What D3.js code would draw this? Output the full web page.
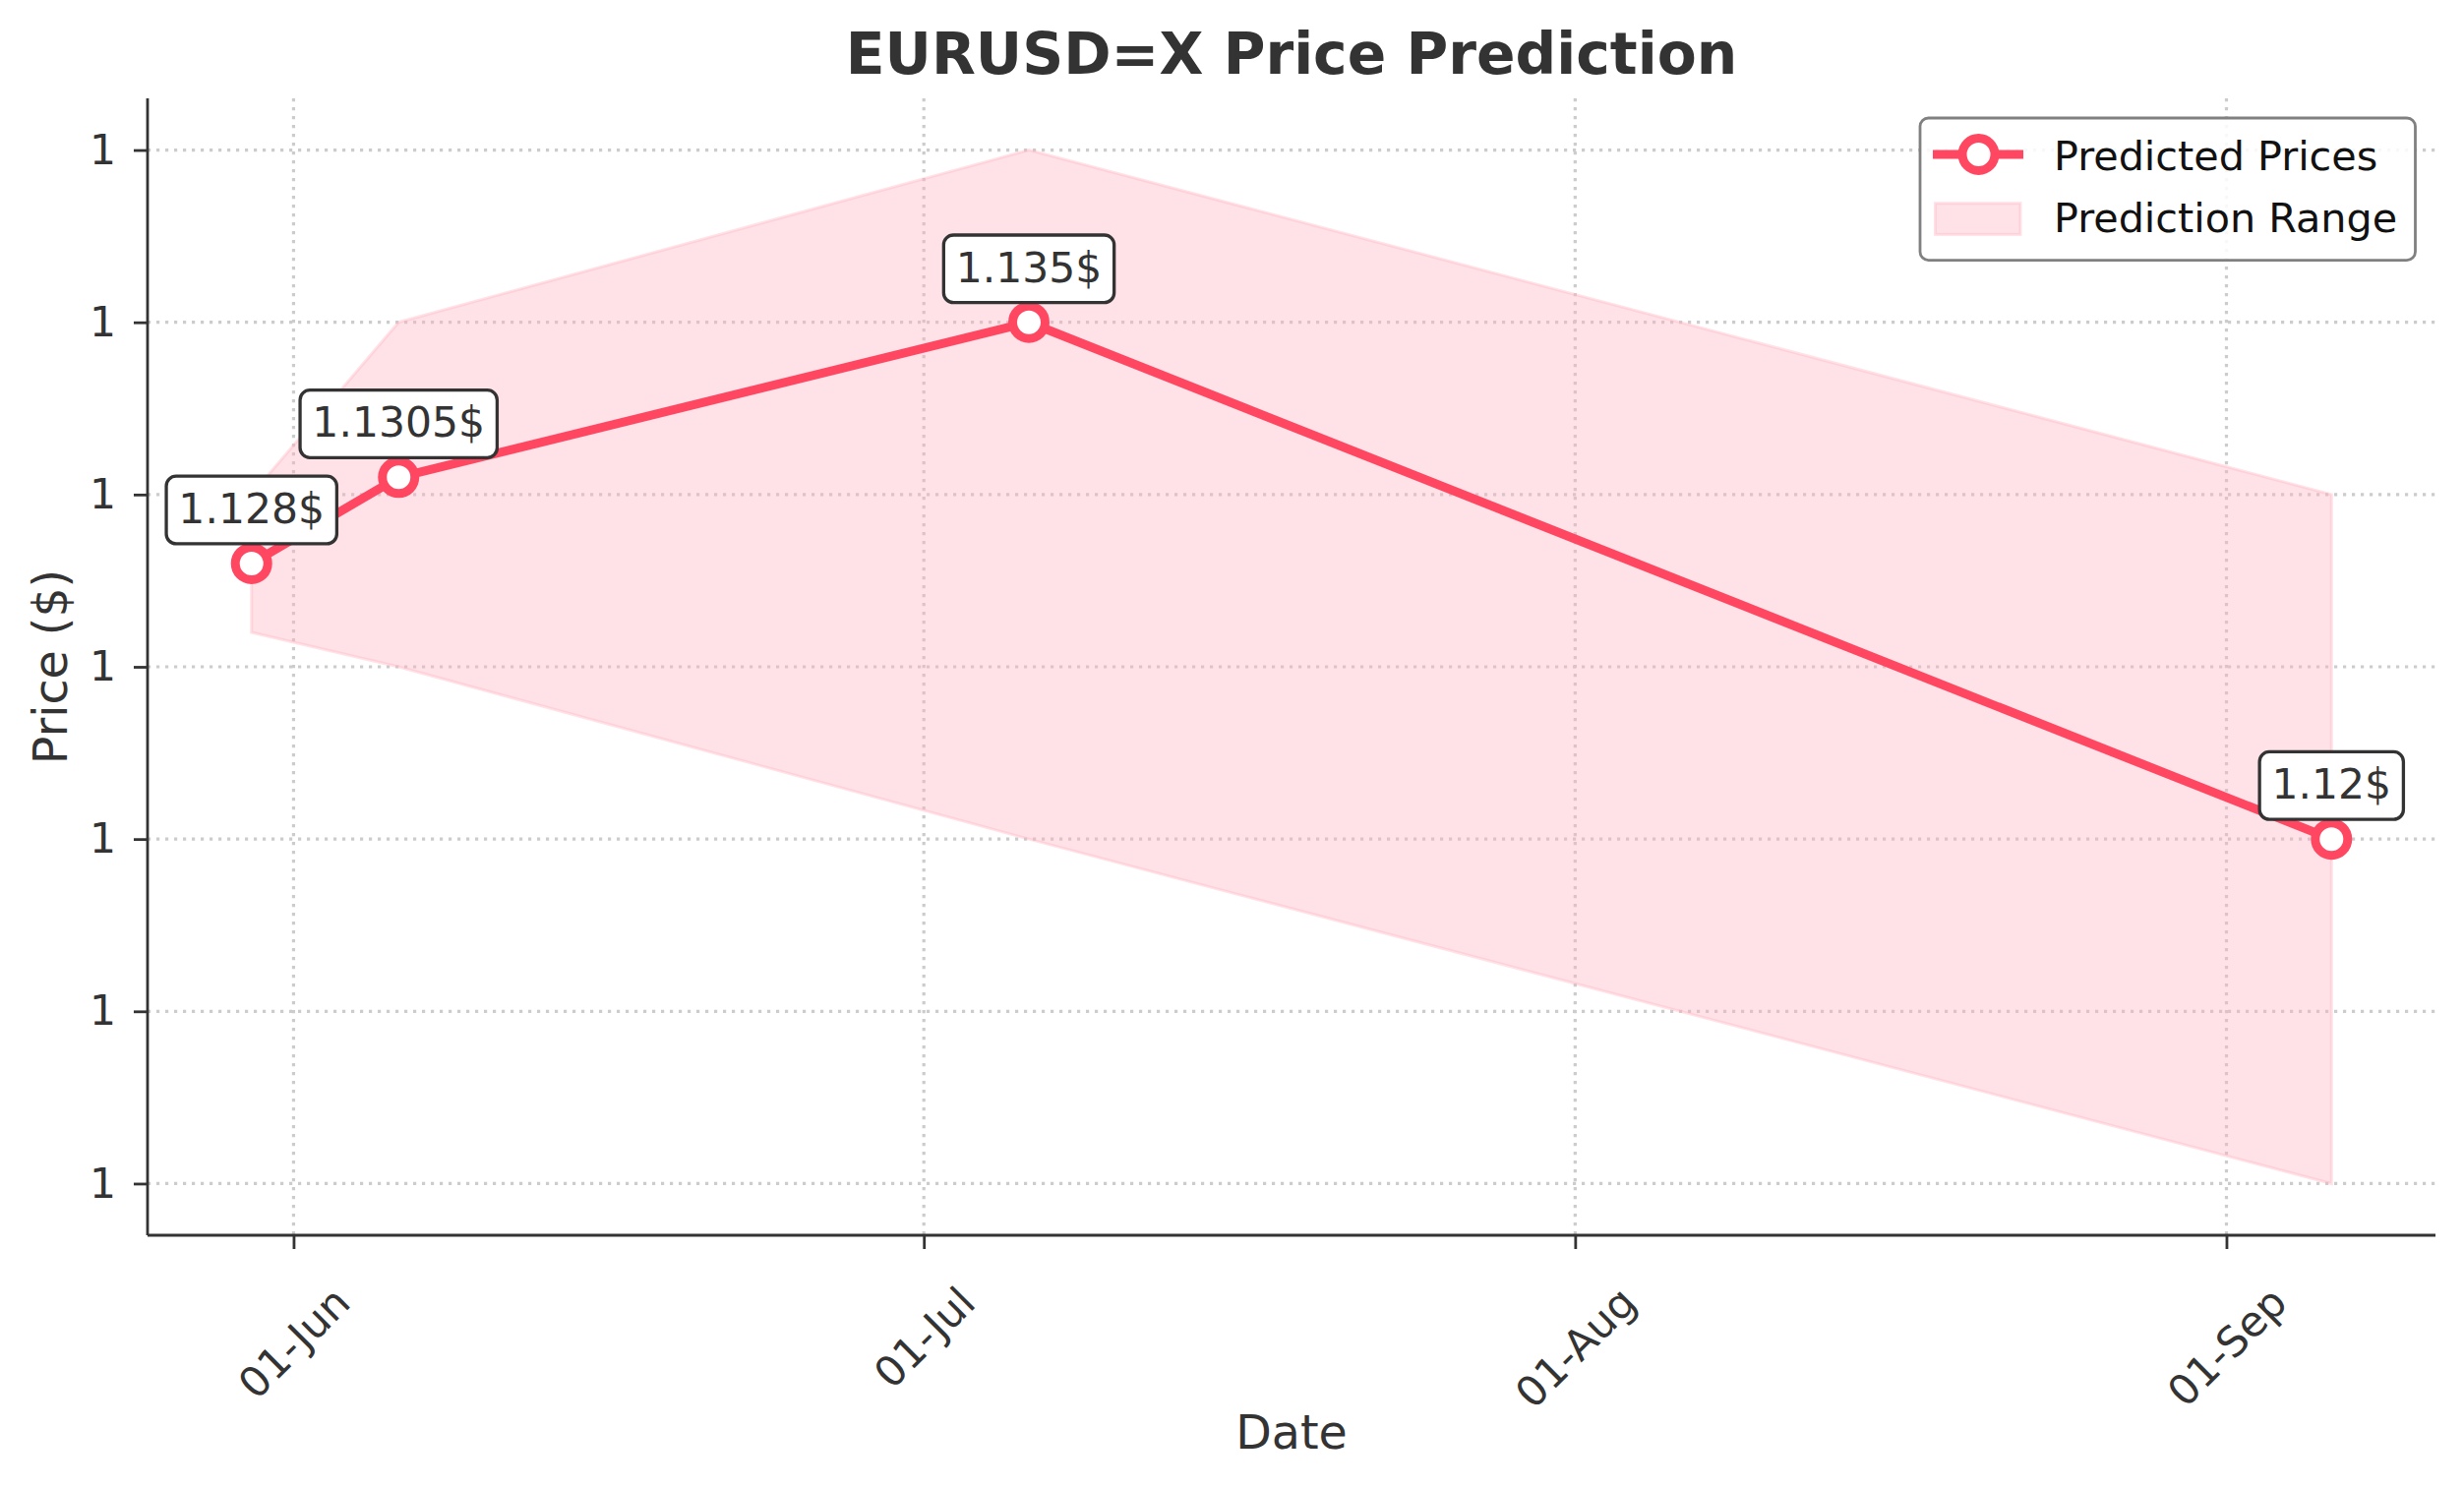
<!DOCTYPE html>
<html>
<head>
<meta charset="utf-8">
<script src="https://cdn.jsdelivr.net/npm/d3@7"></script>
<style>
  body { margin: 0; background: #fff; }
  svg { display: block; font-family: "DejaVu Sans", sans-serif; }
</style>
</head>
<body>
<svg width="2505" height="1513"></svg>
<script>
const dates = ["2025-05-30", "2025-06-06", "2025-07-06", "2025-09-06"];
const predicted = [1.128, 1.1305, 1.135, 1.12];
const lower = [1.126, 1.125, 1.120, 1.110];
const upper = [1.130, 1.135, 1.140, 1.130];
const pointLabels = ["1.128$", "1.1305$", "1.135$", "1.12$"];
const xTickDates = ["2025-06-01", "2025-07-01", "2025-08-01", "2025-09-01"];
const yTickValues = [1.110, 1.115, 1.120, 1.125, 1.130, 1.135, 1.140];

const parse = d3.utcParse("%Y-%m-%d");
const rows = dates.map((d, i) => ({
    date: parse(d), price: predicted[i], lo: lower[i], hi: upper[i], label: pointLabels[i]
}));

const lineColor = "#ff4762";
const textColor = "#333333";

const plotLeft = 150, plotRight = 2476, plotTop = 100, plotBottom = 1256;

// matplotlib style 5% margins on both axes
const t0 = d3.min(rows, d => d.date), t1 = d3.max(rows, d => d.date);
const tPad = (t1 - t0) * 0.05;
const xScale = d3.scaleUtc()
    .domain([new Date(+t0 - tPad), new Date(+t1 + tPad)])
    .range([plotLeft, plotRight]);

const yMin = d3.min(lower), yMax = d3.max(upper);
const yPad = (yMax - yMin) * 0.05;
const yScale = d3.scaleLinear()
    .domain([yMin - yPad, yMax + yPad])
    .range([plotBottom, plotTop]);

const svg = d3.select("svg");
svg.append("rect").attr("width", 2505).attr("height", 1513).attr("fill", "#fff");

// grid
const grid = svg.append("g");
grid.selectAll(".hgrid")
    .data(yTickValues)
    .enter()
    .append("line")
    .attr("x1", plotLeft).attr("x2", plotRight)
    .attr("y1", d => yScale(d)).attr("y2", d => yScale(d))
    .attr("stroke", "#cccccc")
    .attr("stroke-width", 3.2)
    .attr("stroke-dasharray", "3.2,5.8");
grid.selectAll(".vgrid")
    .data(xTickDates.map(parse))
    .enter()
    .append("line")
    .attr("x1", d => xScale(d)).attr("x2", d => xScale(d))
    .attr("y1", plotTop).attr("y2", plotBottom)
    .attr("stroke", "#cccccc")
    .attr("stroke-width", 3.2)
    .attr("stroke-dasharray", "3.2,5.8");

// prediction range band
const area = d3.area()
    .x(d => xScale(d.date))
    .y0(d => yScale(d.lo))
    .y1(d => yScale(d.hi));
svg.append("path")
    .datum(rows)
    .attr("d", area)
    .attr("fill", "#ffb3c0")
    .attr("fill-opacity", 0.38)
    .attr("stroke", "#ffb3c0")
    .attr("stroke-opacity", 0.38)
    .attr("stroke-width", 3);

// predicted line + markers
const line = d3.line()
    .x(d => xScale(d.date))
    .y(d => yScale(d.price));
svg.append("path")
    .datum(rows)
    .attr("d", line)
    .attr("fill", "none")
    .attr("stroke", lineColor)
    .attr("stroke-width", 9)
    .attr("stroke-linejoin", "round");

svg.selectAll(".pt")
    .data(rows)
    .enter()
    .append("circle")
    .attr("cx", d => xScale(d.date))
    .attr("cy", d => yScale(d.price))
    .attr("r", 16.5)
    .attr("fill", "#fff")
    .attr("stroke", lineColor)
    .attr("stroke-width", 9);

// axes (left + bottom spines only)
const xAxis = d3.axisBottom(xScale)
    .tickValues(xTickDates.map(parse))
    .tickFormat(d3.utcFormat("%d-%b"))
    .tickSize(14)
    .tickSizeOuter(0);
const gx = svg.append("g")
    .attr("transform", `translate(0,${plotBottom})`)
    .call(xAxis);
gx.select(".domain").attr("stroke", textColor).attr("stroke-width", 2.8)
    .attr("d", `M${plotLeft},0H${plotRight}`);
gx.selectAll(".tick line").attr("stroke", textColor).attr("stroke-width", 2.8);
gx.selectAll(".tick text")
    .attr("fill", textColor)
    .attr("font-size", 42.5)
    .attr("font-family", "DejaVu Sans")
    .attr("text-anchor", "middle")
    .attr("dy", "0.35em")
    .attr("y", 0)
    .each(function () {
        // rotated label: bbox top sits at a fixed line, centred on the tick
        const w = this.getComputedTextLength();
        const cy = 1299 - plotBottom + (w + 49.5) / 2.828;
        d3.select(this).attr("transform", `translate(0,${cy}) rotate(-45)`);
    });

const yAxis = d3.axisLeft(yScale)
    .tickValues(yTickValues)
    .tickFormat(d3.format(".0f"))
    .tickSize(14)
    .tickPadding(18)
    .tickSizeOuter(0);
const gy = svg.append("g")
    .attr("transform", `translate(${plotLeft},0)`)
    .call(yAxis);
gy.select(".domain").attr("stroke", textColor).attr("stroke-width", 2.8)
    .attr("d", `M0,${plotTop}V${plotBottom}`);
gy.selectAll(".tick line").attr("stroke", textColor).attr("stroke-width", 2.8);
gy.selectAll(".tick text")
    .attr("fill", textColor)
    .attr("font-size", 42.5)
    .attr("font-family", "DejaVu Sans");

// annotations
const ann = svg.selectAll(".ann")
    .data(rows)
    .enter()
    .append("g")
    .attr("transform", d => `translate(${xScale(d.date)},${yScale(d.price) - 41})`);
ann.append("rect").attr("class", "box");
ann.append("text")
    .attr("text-anchor", "middle")
    .attr("font-size", 42.5)
    .attr("fill", textColor)
    .text(d => d.label);
ann.each(function () {
    const g = d3.select(this);
    const w = g.select("text").node().getComputedTextLength();
    g.select("rect")
        .attr("x", -w / 2 - 12.3)
        .attr("y", -47.7)
        .attr("width", w + 24.6)
        .attr("height", 68.7)
        .attr("rx", 10)
        .attr("fill", "#fff")
        .attr("stroke", textColor)
        .attr("stroke-width", 3.3);
});

// titles
svg.append("text")
    .attr("x", (plotLeft + plotRight) / 2).attr("y", 75)
    .attr("text-anchor", "middle")
    .attr("font-size", 58.3).attr("font-weight", "bold")
    .attr("fill", textColor)
    .text("EURUSD=X Price Prediction");
svg.append("text")
    .attr("x", (plotLeft + plotRight) / 2).attr("y", 1473)
    .attr("text-anchor", "middle")
    .attr("font-size", 47.5)
    .attr("fill", textColor)
    .text("Date");
svg.append("text")
    .attr("transform", `translate(68,${(plotTop + plotBottom) / 2}) rotate(-90)`)
    .attr("text-anchor", "middle")
    .attr("font-size", 47.5)
    .attr("fill", textColor)
    .text("Price ($)");

// legend
const legend = svg.append("g");
legend.append("rect")
    .attr("x", 1952).attr("y", 120)
    .attr("width", 503.5).attr("height", 144.6)
    .attr("rx", 8.6)
    .attr("fill", "#fff").attr("fill-opacity", 0.85)
    .attr("stroke", "#808080").attr("stroke-width", 2.8);
legend.append("line")
    .attr("x1", 1965).attr("x2", 2057).attr("y1", 157).attr("y2", 157)
    .attr("stroke", lineColor).attr("stroke-width", 9);
legend.append("circle")
    .attr("cx", 2011.5).attr("cy", 157).attr("r", 16.5)
    .attr("fill", "#fff").attr("stroke", lineColor).attr("stroke-width", 9);
legend.append("rect")
    .attr("x", 1967.5).attr("y", 206.7).attr("width", 86.5).attr("height", 31.7)
    .attr("fill", "#ffb3c0").attr("fill-opacity", 0.38)
    .attr("stroke", "#ffb3c0").attr("stroke-opacity", 0.38).attr("stroke-width", 3);
legend.selectAll(".ltext")
    .data(["Predicted Prices", "Prediction Range"])
    .enter()
    .append("text")
    .attr("x", 2088)
    .attr("y", (d, i) => 173 + i * 63)
    .attr("font-size", 41.3)
    .attr("fill", "#111")
    .text(d => d);
</script>
</body>
</html>
